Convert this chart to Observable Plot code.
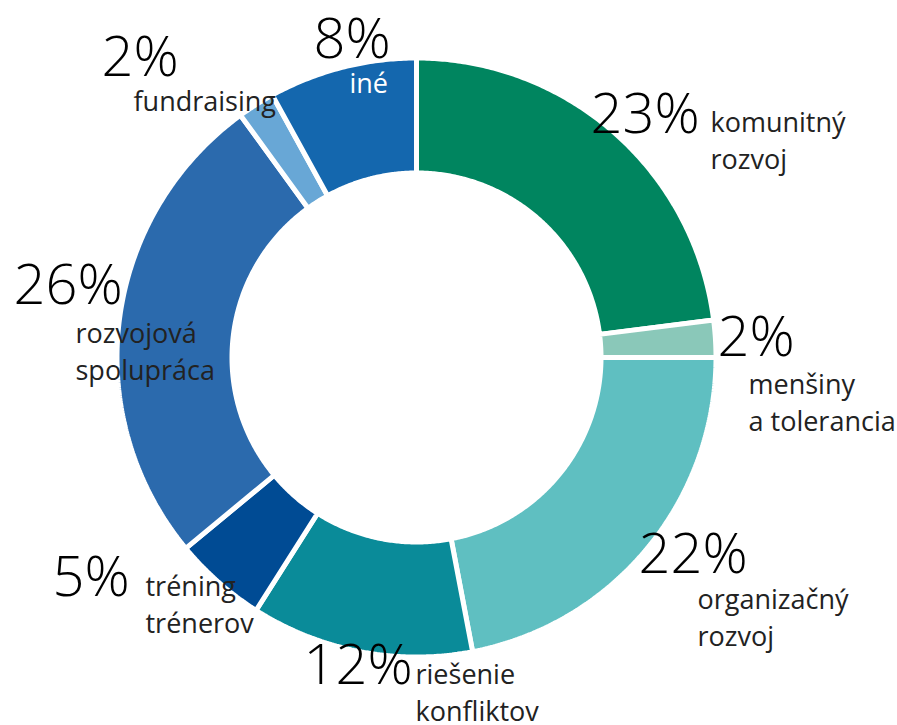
<!DOCTYPE html>
<html>
<head>
<meta charset="utf-8">
<script src="https://cdn.jsdelivr.net/npm/d3@7"></script>
<script src="https://cdn.jsdelivr.net/npm/@observablehq/plot@0.6"></script>
<style>
  html, body { margin: 0; padding: 0; background: #fff; }
  #chart svg { display: block; }
</style>
</head>
<body>
<div id="chart"></div>
<script>
// ---- data ----
const categories = ["komunitný rozvoj", "menšiny a tolerancia", "organizačný rozvoj", "riešenie konfliktov", "tréning trénerov", "rozvojová spolupráca", "fundraising", "iné"];
const labelText = ["komunitný\nrozvoj", "menšiny\na tolerancia", "organizačný\nrozvoj", "riešenie\nkonfliktov", "tréning\ntrénerov", "rozvojová\nspolupráca", "fundraising", "iné"];
const values = [23, 2, 22, 12, 5, 26, 2, 8];
const colors = ["#00855f", "#8ac8b9", "#5fbfc1", "#0a8b99", "#004b94", "#2b6aad", "#68a7d6", "#1467ae"];

// ---- layout ----
const W = 897, H = 725;
const cx = 416, cy = 357;          // donut centre (px)
const rOuter = 297, rInner = 187;   // visible radii (px)
const gap = 5;                      // white separator width
// label anchors (left x, baseline of last line), pixel units
const pctPos = [[590, 132], [717, 355], [638, 572], [303, 683], [52, 595], [13, 303], [101, 75], [313, 57]];
const lblPos = [[710, 168], [748, 430], [697, 645], [415, 720], [145, 632], [75, 379], [133, 110], [349, 92]];

// slice outlines derived from the values (angle from 12 o'clock, clockwise)
const total = d3.sum(values);
const slices = [];
let acc = 0;
values.forEach((v, i) => {
  const a0 = acc / total * 2 * Math.PI;
  acc += v;
  const a1 = acc / total * 2 * Math.PI;
  const n = Math.max(4, Math.ceil((a1 - a0) / (Math.PI / 360)));
  const ro = rOuter + gap / 2, ri = rInner - gap / 2;
  for (let k = 0; k <= n; k++) {
    const a = a0 + (a1 - a0) * k / n;
    slices.push({cat: categories[i], x: ro * Math.sin(a), y: ro * Math.cos(a)});
  }
  for (let k = n; k >= 0; k--) {
    const a = a0 + (a1 - a0) * k / n;
    slices.push({cat: categories[i], x: ri * Math.sin(a), y: ri * Math.cos(a)});
  }
});

const pctData = values.map((v, i) => ({cat: categories[i], text: v + "%", x: pctPos[i][0] - cx, y: cy - pctPos[i][1]}));
const lblData = labelText.map((t, i) => ({cat: categories[i], text: t, x: lblPos[i][0] - cx, y: cy - lblPos[i][1], white: categories[i] === "iné"}));

const chart = Plot.plot({
  width: W,
  height: H,
  margin: 0,
  x: {domain: [-cx, W - cx], axis: null},
  y: {domain: [-(H - cy), cy], axis: null},
  color: {domain: categories, range: colors},
  marks: [
    Plot.line(slices, {x: "x", y: "y", z: "cat", fill: "cat", stroke: "white", strokeWidth: gap, curve: "linear-closed", strokeLinejoin: "miter"}),
    Plot.text(lblData.filter(d => !d.white), {x: "x", y: "y", text: "text", textAnchor: "start", lineAnchor: "bottom", lineHeight: 37 / 27, fontSize: 27, fontFamily: "Open Sans", fontWeight: 400, fill: "#222"}),
    Plot.text(lblData.filter(d => d.white), {x: "x", y: "y", text: "text", textAnchor: "start", lineAnchor: "bottom", fontSize: 27, fontFamily: "Open Sans", fontWeight: 400, fill: "white"}),
    Plot.text(pctData, {x: "x", y: "y", text: "text", textAnchor: "start", lineAnchor: "bottom", fontSize: 56, fontFamily: "Open Sans", fontWeight: 300, fill: "#000", letterSpacing: -6})
  ]
});
document.getElementById("chart").appendChild(chart);
</script>
</body>
</html>
